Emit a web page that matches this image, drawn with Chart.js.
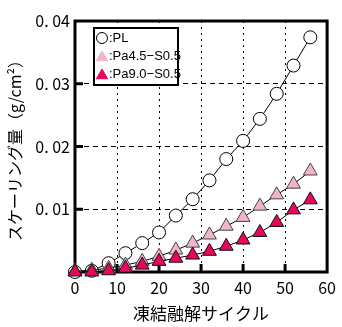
<!DOCTYPE html>
<html><head><meta charset="utf-8">
<script src="https://cdn.jsdelivr.net/npm/chart.js@4"></script>
<style>html,body{margin:0;padding:0;background:#fff}#wrap{width:342px;height:327px}</style>
</head><body><div id="wrap"><canvas id="c" width="342" height="327"></canvas></div>
<script>
const cycles = [0, 4, 8, 12, 16, 20, 24, 28, 32, 36, 40, 44, 48, 52, 56];
const plValues = [0.0000, 0.0002, 0.0014, 0.0030, 0.0046, 0.0063, 0.0090, 0.0116, 0.0146, 0.0180, 0.0209, 0.0244, 0.0284, 0.0329, 0.0374];
const pa45Values = [0.0001, 0.0003, 0.0006, 0.0011, 0.0017, 0.0025, 0.0035, 0.0046, 0.0059, 0.0073, 0.0087, 0.0105, 0.0123, 0.0140, 0.0161];
const pa90Values = [0.0000, 0.0000, 0.0002, 0.0006, 0.0011, 0.0017, 0.0022, 0.0027, 0.0033, 0.0041, 0.0051, 0.0063, 0.0079, 0.0099, 0.0115];
const seriesLabels = [':PL', ':Pa4.5\u2212S0.5', ':Pa9.0\u2212S0.5'];
const xTicks = [0, 10, 20, 30, 40, 50, 60];
const yTickLabels = {0.01: '0. 01', 0.02: '0. 02', 0.03: '0. 03', 0.04: '0. 04'};
const xTitle = '凍結融解サイクル';
const yTitle = 'スケーリング量（g/cm\u00B2）';

const toXY = v => cycles.map((c, i) => ({x: c, y: v[i]}));
const numFont = "'Liberation Sans Narrow','Noto Sans CJK JP',sans-serif";
const jpFont = "'Noto Sans CJK JP',sans-serif";

const styles = [
  {pointStyle: 'circle', radius: 6.5, bg: '#ffffff', border: '#000000'},
  {pointStyle: 'triangle', radius: 8, bg: '#f2b4cd', border: '#444444'},
  {pointStyle: 'triangle', radius: 8, bg: '#e8065e', border: '#111111'}
];

const framePlugin = {
  id: 'frame',
  beforeDatasetsDraw(chart) {
    const {ctx, chartArea: a, scales} = chart;
    ctx.save();
    ctx.strokeStyle = '#000';
    ctx.lineWidth = 3;
    ctx.beginPath();
    [0.01, 0.02, 0.03].forEach(v => {
      const y = scales.y.getPixelForValue(v);
      ctx.moveTo(a.left, y); ctx.lineTo(a.left + 8, y);
    });
    [10, 20, 30, 40, 50].forEach(v => {
      const x = scales.x.getPixelForValue(v);
      ctx.moveTo(x, a.bottom); ctx.lineTo(x, a.bottom - 8);
    });
    ctx.stroke();
    ctx.strokeRect(a.left, a.top, a.right - a.left, a.bottom - a.top);
    ctx.restore();
  },
  afterDraw(chart) {
    const {ctx} = chart;
    const bx = 94, by = 28, bw = 84, bh = 57;
    ctx.save();
    ctx.fillStyle = '#fff';
    ctx.fillRect(bx, by, bw, bh);
    ctx.strokeStyle = '#000';
    ctx.lineWidth = 2;
    ctx.strokeRect(bx, by, bw, bh);
    ctx.font = "13px 'Liberation Sans Narrow','Liberation Sans',sans-serif";
    ctx.textBaseline = 'middle';
    ctx.textAlign = 'left';
    seriesLabels.forEach((lab, i) => {
      const y = by + 10 + i * 18;
      const s = styles[i];
      ctx.fillStyle = s.bg;
      ctx.strokeStyle = i === 0 ? '#000' : s.bg;
      ctx.lineWidth = 1;
      Chart.helpers.drawPoint(ctx, {pointStyle: s.pointStyle, radius: i === 0 ? 5.5 : 6.5, borderWidth: 1}, 102, i === 0 ? y : y + 1.5);
      ctx.fillStyle = '#000';
      ctx.fillText(lab, 109, y);
    });
    ctx.restore();
  }
};

new Chart(document.getElementById('c'), {
  type: 'line',
  data: {
    datasets: [2, 1, 0].map(i => ({
      label: seriesLabels[i],
      data: toXY([plValues, pa45Values, pa90Values][i]),
      borderColor: '#000',
      borderWidth: 1,
      pointStyle: styles[i].pointStyle,
      pointRadius: styles[i].radius,
      pointBackgroundColor: styles[i].bg,
      pointBorderColor: styles[i].border,
      pointBorderWidth: 1,
      tension: 0,
      clip: false
    }))
  },
  options: {
    responsive: false,
    animation: false,
    events: [],
    layout: {padding: {top: 21, right: 14, left: 0, bottom: 0}},
    plugins: {legend: {display: false}, tooltip: {enabled: false}},
    scales: {
      x: {
        type: 'linear', min: 0, max: 60,
        afterBuildTicks: s => { s.ticks = xTicks.map(v => ({value: v})); },
        afterFit: s => { s.height = 55; },
        ticks: {font: {family: numFont, size: 16}, color: '#000', padding: 6, maxRotation: 0},
        grid: {drawTicks: false, color: c => (c.tick && (c.tick.value === 0 || c.tick.value === 60)) ? 'rgba(0,0,0,0)' : '#000', lineWidth: 1},
        border: {display: false, dash: [2, 4]},
        title: {display: true, text: xTitle, font: {family: jpFont, size: 17}, color: '#000', padding: {top: 0, bottom: 3}}
      },
      y: {
        type: 'linear', min: 0, max: 0.04,
        afterBuildTicks: s => { s.ticks = [0.01, 0.02, 0.03, 0.04].map(v => ({value: v})); },
        afterFit: s => { s.width = 75; },
        ticks: {font: {family: numFont, size: 16}, color: '#000', padding: 5, callback: v => yTickLabels[Math.round(v * 100) / 100] || ''},
        grid: {drawTicks: false, color: c => (c.tick && c.tick.value > 0.035) ? 'rgba(0,0,0,0)' : '#000', lineWidth: 1},
        border: {display: false, dash: [5, 4]},
        title: {display: true, text: yTitle, font: {family: jpFont, size: 16}, color: '#000', padding: {top: 5, bottom: 0}}
      }
    }
  },
  plugins: [framePlugin]
});
</script></body></html>
